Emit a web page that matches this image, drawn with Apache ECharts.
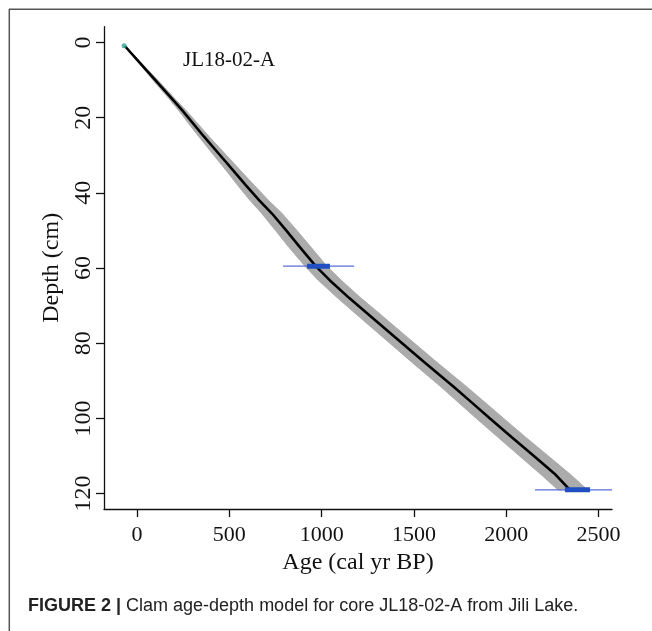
<!DOCTYPE html>
<html>
<head>
<meta charset="utf-8">
<script src="https://cdn.jsdelivr.net/npm/echarts@6/dist/echarts.min.js"></script>
<style>
html,body{margin:0;padding:0;background:#fff;}
#chart{width:652px;height:631px;}
</style>
</head>
<body>
<div id="chart"></div>
<script>
// ---- data ----
const depths  = [1, 5, 10, 15, 18, 25, 30, 35, 38, 42, 45.5, 50, 54.5, 59.5, 63.3, 68, 72, 78.4, 85, 91.6, 95.2, 100, 105, 110, 115, 119];
const ageBest = [-65, 8, 99, 190, 244, 362, 450, 538, 590, 662, 731, 808, 883, 968, 1045, 1150, 1246, 1398, 1555, 1715, 1800, 1912, 2030, 2150, 2268, 2345];
const ageMin  = [-66, 2, 86, 174, 224, 334, 416, 498, 545, 612, 676, 750, 823, 910, 983, 1087, 1181, 1332, 1487, 1646, 1728, 1838, 1955, 2072, 2190, 2280];
const ageMax  = [-64, 14, 112, 206, 264, 390, 484, 578, 635, 712, 786, 866, 943, 1028, 1107, 1213, 1311, 1464, 1623, 1786, 1872, 1986, 2105, 2228, 2350, 2440];

const dateDepths = [59.5, 119];
const date2sMin  = [791, 2156];
const date2sMax  = [1176, 2573];
const date1sMin  = [921, 2318];
const date1sMax  = [1045, 2454];

const surfaceAge = [-70];
const surfaceDepth = [0.9];

const xTicks = [0, 500, 1000, 1500, 2000, 2500];
const yTicks = [0, 20, 40, 60, 80, 100, 120];

const coreName = 'JL18-02-A';
const xTitle = 'Age (cal yr BP)';
const yTitle = 'Depth (cm)';
const captionBold = 'FIGURE 2 |';
const captionText = ' Clam age-depth model for core JL18-02-A from Jili Lake.';

// ---- chart ----
const chart = echarts.init(document.getElementById('chart'), null, {renderer: 'canvas'});
const serif = 'Liberation Serif';

const series = [];
// confidence band
series.push({
  type: 'custom',
  data: [[0, 0]],
  silent: true,
  z: 1,
  renderItem: function (params, api) {
    const pts = [];
    for (let i = 0; i < depths.length; i++) pts.push(api.coord([ageMin[i], depths[i]]));
    for (let i = depths.length - 1; i >= 0; i--) pts.push(api.coord([ageMax[i], depths[i]]));
    return {type: 'polygon', shape: {points: pts}, style: {fill: '#ababab', stroke: '#ababab', lineWidth: 1}};
  }
});
// best fit line
series.push({
  type: 'line',
  data: depths.map((d, i) => [ageBest[i], d]),
  showSymbol: false,
  lineStyle: {color: '#000', width: 2.6},
  z: 3,
  silent: true
});
// dates
dateDepths.forEach((d, i) => {
  series.push({
    type: 'line', data: [[date2sMin[i], d], [date2sMax[i], d]], showSymbol: false,
    lineStyle: {color: '#5b6fd6', width: 1.2}, z: 4, silent: true
  });
  series.push({
    type: 'line', data: [[date1sMin[i], d], [date1sMax[i], d]], showSymbol: false,
    lineStyle: {color: '#1f4fc0', width: 5}, z: 4, silent: true
  });
});
// surface point
series.push({
  type: 'scatter',
  data: surfaceAge.map((a, i) => [a, surfaceDepth[i]]),
  symbolSize: 5,
  itemStyle: {color: '#2aa198'},
  z: 5,
  silent: true
});

const option = {
  animation: false,
  backgroundColor: '#fff',
  title: [
    {text: coreName, left: 183, top: 50, padding: 0,
     textStyle: {fontFamily: serif, fontSize: 21, fontWeight: 'normal', color: '#111'}},
    {text: '{b|' + captionBold + '}' + captionText, left: 28, top: 597, padding: 0,
     textStyle: {fontFamily: 'Liberation Sans', fontSize: 18, fontWeight: 'normal', color: '#222',
       rich: {b: {fontFamily: 'Liberation Sans', fontSize: 18, fontWeight: 'bold', color: '#222'}}}}
  ],
  grid: {left: 104, top: 26.7, right: 40, bottom: 122},
  xAxis: {
    type: 'value', min: -179, max: 2573,
    splitLine: {show: false},
    axisLine: {show: true, onZero: false, lineStyle: {color: '#111', width: 1.3}},
    axisTick: {show: true, customValues: xTicks, length: 8, lineStyle: {color: '#111', width: 1.3}},
    axisLabel: {customValues: xTicks, margin: 15, fontFamily: serif, fontSize: 22, color: '#111',
      formatter: v => String(v)},
    name: xTitle, nameLocation: 'middle', nameGap: 40,
    nameTextStyle: {fontFamily: serif, fontSize: 24, color: '#111'}
  },
  yAxis: {
    type: 'value', inverse: true, min: -4.2, max: 124.1,
    splitLine: {show: false},
    axisLine: {show: true, onZero: false, lineStyle: {color: '#111', width: 1.3}},
    axisTick: {show: true, customValues: yTicks, length: 8, lineStyle: {color: '#111', width: 1.3}},
    axisLabel: {customValues: yTicks, rotate: 90, margin: 8, fontFamily: serif, fontSize: 24, color: '#111',
      formatter: v => String(v)},
    name: yTitle, nameLocation: 'middle', nameGap: 38, nameRotate: 90,
    nameTextStyle: {fontFamily: serif, fontSize: 24, color: '#111'}
  },
  graphic: [
    {type: 'line', shape: {x1: 9, y1: 9.3, x2: 652, y2: 9.3}, style: {stroke: '#555', lineWidth: 1.5}, silent: true},
    {type: 'line', shape: {x1: 9.3, y1: 9, x2: 9.3, y2: 631}, style: {stroke: '#555', lineWidth: 1.5}, silent: true}
  ],
  series: series
};
chart.setOption(option);
</script>
</body>
</html>
